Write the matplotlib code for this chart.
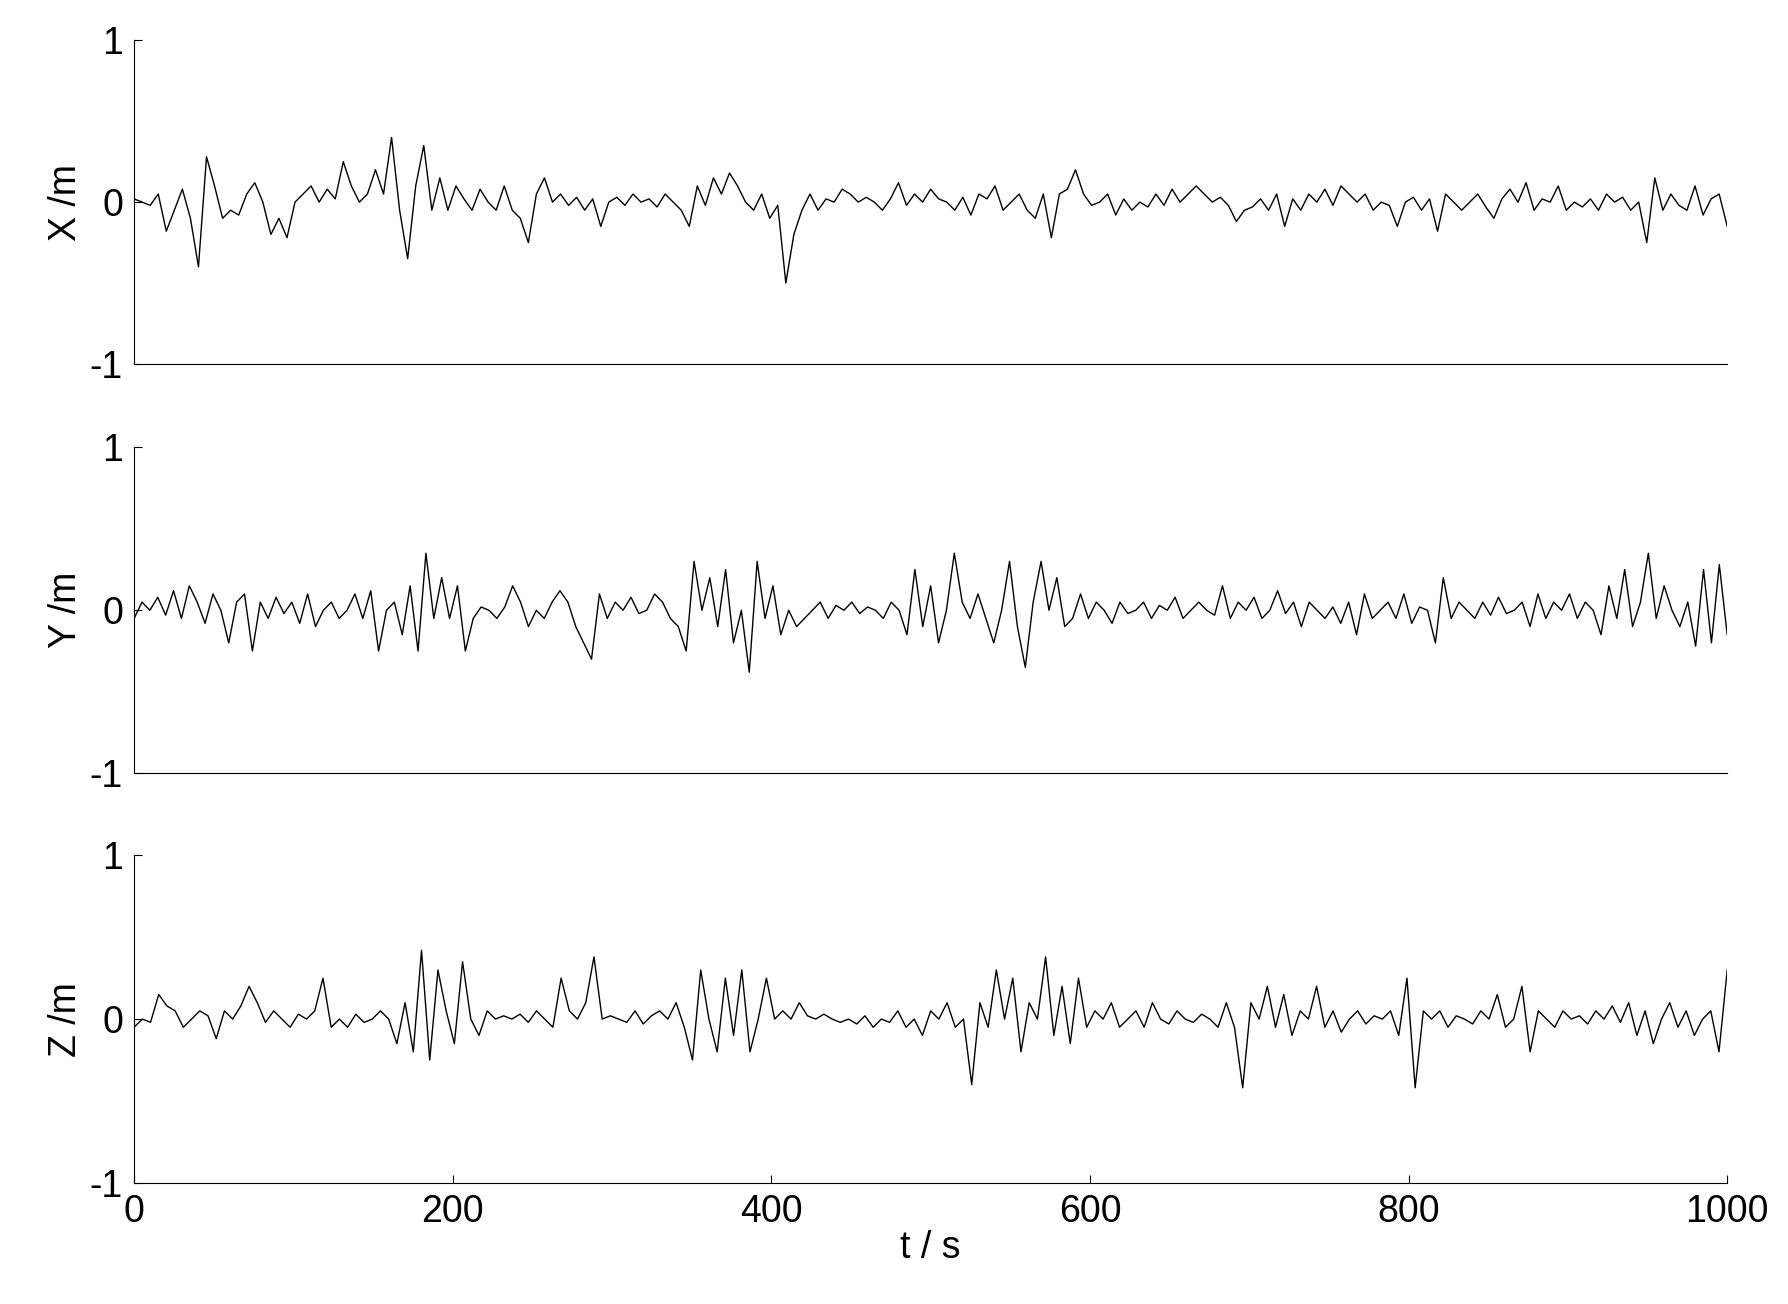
import matplotlib
matplotlib.use("Agg")
import matplotlib.pyplot as plt
import numpy as np

x = [0.02,0.0,-0.02,0.05,-0.18,-0.05,0.08,-0.1,-0.4,0.28,0.1,-0.1,-0.05,-0.08,0.05,0.12,0.0,-0.2,-0.1,-0.22,0.0,0.05,0.1,0.0,0.08,0.02,0.25,0.1,0.0,0.05,0.2,0.05,0.4,-0.05,-0.35,0.1,0.35,-0.05,0.15,-0.05,0.1,0.02,-0.05,0.08,0.0,-0.05,0.1,-0.05,-0.1,-0.25,0.05,0.15,0.0,0.05,-0.02,0.03,-0.05,0.02,-0.15,0.0,0.03,-0.02,0.05,0.0,0.02,-0.03,0.05,0.0,-0.05,-0.15,0.1,-0.02,0.15,0.05,0.18,0.1,0.0,-0.05,0.05,-0.1,-0.02,-0.5,-0.2,-0.05,0.05,-0.05,0.02,0.0,0.08,0.05,0.0,0.03,0.0,-0.05,0.02,0.12,-0.02,0.05,0.0,0.08,0.02,0.0,-0.05,0.03,-0.08,0.05,0.02,0.1,-0.05,0.0,0.05,-0.05,-0.1,0.05,-0.22,0.05,0.08,0.2,0.05,-0.02,0.0,0.05,-0.08,0.02,-0.05,0.0,-0.03,0.05,-0.02,0.08,0.0,0.05,0.1,0.05,0.0,0.03,-0.02,-0.12,-0.05,-0.03,0.02,-0.05,0.05,-0.15,0.02,-0.05,0.05,0.0,0.08,-0.02,0.1,0.05,0.0,0.05,-0.05,0.0,-0.02,-0.15,0.0,0.03,-0.05,0.02,-0.18,0.05,0.0,-0.05,0.0,0.05,-0.03,-0.1,0.02,0.08,0.0,0.12,-0.05,0.02,0.0,0.1,-0.05,0.0,-0.03,0.02,-0.05,0.05,0.0,0.03,-0.05,0.0,-0.25,0.15,-0.05,0.05,-0.02,-0.05,0.1,-0.08,0.02,0.05,-0.15]
y = [-0.05,0.05,0.0,0.08,-0.03,0.12,-0.05,0.15,0.05,-0.08,0.1,0.0,-0.2,0.05,0.1,-0.25,0.05,-0.05,0.08,-0.02,0.05,-0.08,0.1,-0.1,0.0,0.05,-0.05,0.0,0.1,-0.05,0.12,-0.25,0.0,0.05,-0.15,0.15,-0.25,0.35,-0.05,0.2,-0.05,0.15,-0.25,-0.05,0.02,0.0,-0.05,0.02,0.15,0.05,-0.1,0.0,-0.05,0.05,0.12,0.05,-0.1,-0.2,-0.3,0.1,-0.05,0.05,0.0,0.08,-0.02,0.0,0.1,0.05,-0.05,-0.1,-0.25,0.3,0.0,0.2,-0.1,0.25,-0.2,0.0,-0.38,0.3,-0.05,0.15,-0.15,0.0,-0.1,-0.05,0.0,0.05,-0.05,0.03,0.0,0.05,-0.02,0.02,0.0,-0.05,0.05,0.0,-0.15,0.25,-0.1,0.15,-0.2,0.0,0.35,0.05,-0.05,0.1,-0.05,-0.2,0.0,0.3,-0.1,-0.35,0.05,0.3,0.0,0.2,-0.1,-0.05,0.1,-0.05,0.05,0.0,-0.08,0.05,-0.02,0.0,0.05,-0.05,0.03,0.0,0.08,-0.05,0.0,0.05,0.0,-0.03,0.15,-0.05,0.05,0.0,0.08,-0.05,0.0,0.12,-0.02,0.05,-0.1,0.05,0.0,-0.05,0.02,-0.08,0.05,-0.15,0.1,-0.05,0.0,0.05,-0.05,0.1,-0.08,0.02,0.0,-0.2,0.2,-0.05,0.05,0.0,-0.05,0.05,-0.03,0.08,-0.02,0.0,0.05,-0.1,0.1,-0.05,0.05,0.0,0.1,-0.05,0.05,0.0,-0.15,0.15,-0.05,0.25,-0.1,0.05,0.35,-0.05,0.15,0.0,-0.1,0.05,-0.22,0.25,-0.2,0.28,-0.15]
z = [-0.05,0.0,-0.02,0.15,0.08,0.05,-0.05,0.0,0.05,0.02,-0.12,0.05,0.0,0.08,0.2,0.1,-0.02,0.05,0.0,-0.05,0.03,0.0,0.05,0.25,-0.05,0.0,-0.05,0.03,-0.02,0.0,0.05,0.0,-0.15,0.1,-0.2,0.42,-0.25,0.3,0.05,-0.15,0.35,0.0,-0.1,0.05,0.0,0.02,0.0,0.03,-0.02,0.05,0.0,-0.05,0.25,0.05,0.0,0.1,0.38,0.0,0.02,0.0,-0.02,0.05,-0.03,0.02,0.05,0.0,0.1,-0.05,-0.25,0.3,0.0,-0.2,0.25,-0.1,0.3,-0.2,0.0,0.25,0.0,0.05,0.0,0.1,0.02,0.0,0.03,0.0,-0.02,0.0,-0.03,0.02,-0.05,0.0,-0.02,0.05,-0.05,0.0,-0.1,0.05,0.0,0.1,-0.05,0.0,-0.4,0.1,-0.05,0.3,0.0,0.25,-0.2,0.1,0.0,0.38,-0.1,0.2,-0.15,0.25,-0.05,0.05,0.0,0.1,-0.05,0.0,0.05,-0.05,0.1,0.0,-0.03,0.05,0.0,-0.02,0.03,0.0,-0.05,0.1,-0.05,-0.42,0.1,0.0,0.2,-0.05,0.15,-0.1,0.05,0.0,0.2,-0.05,0.05,-0.08,0.0,0.05,-0.03,0.02,0.0,0.05,-0.1,0.25,-0.42,0.05,0.0,0.05,-0.05,0.02,0.0,-0.03,0.05,0.0,0.15,-0.05,0.0,0.2,-0.2,0.05,0.0,-0.05,0.05,0.0,0.02,-0.03,0.05,0.0,0.08,-0.02,0.1,-0.1,0.05,-0.15,0.0,0.1,-0.05,0.05,-0.1,0.0,0.05,-0.2,0.3]

plt.rcParams['font.family'] = ['Liberation Sans', 'DejaVu Sans']
fig = plt.figure(figsize=(17.88, 13.04), dpi=100)
boxes = [(0.721, 0.969), (0.407, 0.657), (0.093, 0.344)]
labels = ['X /m', 'Y /m', 'Z /m']
for i, (data, (b, tp), lab) in enumerate(zip([x, y, z], boxes, labels)):
    ax = fig.add_axes([0.075, b, 0.891, tp - b])
    t = np.linspace(0, 1000, len(data))
    ax.plot(t, data, color='black', lw=1)
    ax.set_xlim(0, 1000)
    ax.set_ylim(-1, 1)
    ax.set_yticks([-1, 0, 1])
    ax.set_yticklabels(['-1', '0', '1'])
    ax.spines['top'].set_visible(False)
    ax.spines['right'].set_visible(False)
    ax.tick_params(direction='in', labelsize=27, length=6, pad=8)
    ax.set_ylabel(lab, fontsize=27)
    if i < 2:
        ax.set_xticks([])
    else:
        ax.set_xticks([0, 200, 400, 600, 800, 1000])
        ax.set_xlabel('t / s', fontsize=27, labelpad=0)
fig.savefig('out.png', dpi=100)
